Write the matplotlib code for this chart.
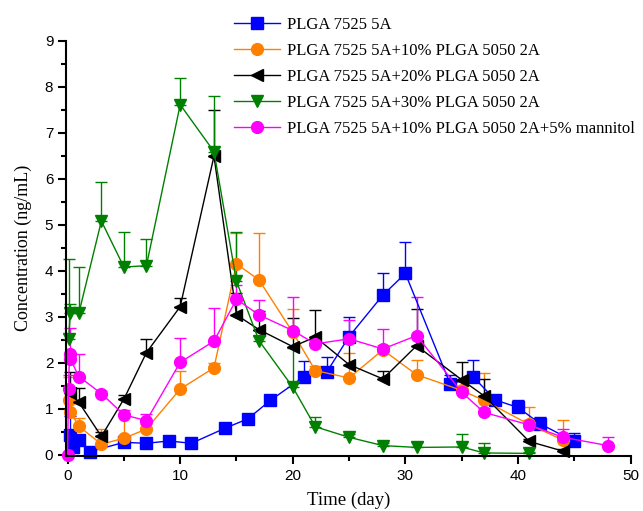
import matplotlib
matplotlib.use('Agg')
import matplotlib.pyplot as plt
from matplotlib.ticker import MultipleLocator

# ── Data ───────────────────────────────────────────
labels = [
    'PLGA 7525 5A',
    'PLGA 7525 5A+10% PLGA 5050 2A',
    'PLGA 7525 5A+20% PLGA 5050 2A',
    'PLGA 7525 5A+30% PLGA 5050 2A',
    'PLGA 7525 5A+10% PLGA 5050 2A+5% mannitol',
]

days_blue = [0.25, 0.5, 1, 2, 5, 7, 9, 11, 14, 16, 18, 21, 23, 25, 28, 30, 34, 36, 38, 40, 42, 45]
conc_blue = [0.43, 0.18, 0.33, 0.07, 0.27, 0.25, 0.30, 0.25, 0.58, 0.78, 1.18, 1.70, 1.79, 2.57,
             3.47, 3.94, 1.53, 1.70, 1.19, 1.03, 0.67, 0.29]
err_blue  = [0.42, 0.05, 0.10, 0.05, 0.08, 0.05, 0.05, 0.05, 0.07, 0.10, 0.05, 0.34, 0.33, 0.42,
             0.49, 0.69, 0.20, 0.37, 0.10, 0.16, 0.16, 0.18]

days_orange = [0.08, 0.25, 1, 3, 5, 7, 10, 13, 15, 17, 20, 22, 25, 28, 31, 35, 37, 41, 44]
conc_orange = [1.20, 0.93, 0.62, 0.23, 0.36, 0.56, 1.43, 1.89, 4.15, 3.80, 2.66, 1.83, 1.67,
               2.28, 1.74, 1.40, 1.18, 0.66, 0.32]
err_orange  = [0.50, 0.20, 0.18, 0.33, 0.55, 0.10, 0.40, 0.10, 0.68, 1.03, 0.51, 0.10, 0.55,
               0.10, 0.31, 0.20, 0.60, 0.38, 0.43]

days_black = [0.25, 1, 3, 5, 7, 10, 13, 15, 17, 20, 22, 25, 28, 31, 35, 37, 41, 44]
conc_black = [1.35, 1.14, 0.40, 1.21, 2.22, 3.22, 6.49, 3.04, 2.72, 2.35, 2.56, 1.96, 1.65,
              2.37, 1.63, 1.28, 0.29, 0.08]
err_black  = [0.45, 0.31, 0.10, 0.10, 0.30, 0.19, 1.00, 0.48, 0.41, 0.62, 0.59, 0.58, 0.18,
              0.80, 0.38, 0.37, 0.05, 0.05]

days_green = [0.08, 0.25, 1, 3, 5, 7, 10, 13, 15, 17, 20, 22, 25, 28, 31, 35, 37, 41]
conc_green = [2.52, 3.09, 3.08, 5.08, 4.08, 4.11, 7.61, 6.59, 3.77, 2.48, 1.47, 0.61, 0.38,
              0.20, 0.16, 0.17, 0.04, 0.03]
err_green  = [1.73, 0.18, 1.00, 0.85, 0.77, 0.59, 0.57, 1.21, 1.07, 0.10, 0.85, 0.21, 0.08,
              0.05, 0.11, 0.29, 0.21, 0.02]

days_magenta = [0, 0.08, 0.17, 0.25, 1, 3, 5, 7, 10, 13, 15, 17, 20, 22, 25, 28, 31, 35, 37, 41, 44, 48]
conc_magenta = [0.00, 1.43, 2.20, 2.08, 1.70, 1.33, 0.87, 0.74, 2.01, 2.47, 3.38, 3.04, 2.70,
                2.41, 2.52, 2.30, 2.59, 1.36, 0.92, 0.65, 0.38, 0.20]
err_magenta  = [0.00, 0.30, 0.55, 0.10, 0.49, 0.05, 0.10, 0.15, 0.53, 0.72, 0.30, 0.33, 0.74,
                0.10, 0.41, 0.43, 0.85, 0.27, 0.10, 0.10, 0.18, 0.19]

series = [
    (days_blue,    conc_blue,    err_blue,    '#0000FF', 's'),
    (days_orange,  conc_orange,  err_orange,  '#FF8000', 'o'),
    (days_black,   conc_black,   err_black,   '#000000', '<'),
    (days_green,   conc_green,   err_green,   '#008000', 'v'),
    (days_magenta, conc_magenta, err_magenta, '#FF00FF', 'o'),
]

# ── Plot ───────────────────────────────────────────
fig = plt.figure(figsize=(6.43, 5.11), dpi=100)
ax = fig.add_axes([0.1034, 0.1082, 0.8772, 0.8122])

handles = []
for (x, y, e, col, mk), lab in zip(series, labels):
    cont = ax.errorbar(x, y, yerr=[[0] * len(e), e], color=col, marker=mk, markersize=8.5,
                       linewidth=1, elinewidth=1, capsize=4, capthick=1, label=lab,
                       clip_on=False)
    handles.append(cont[0])   # line + marker only, no error bar in the legend

ax.set_xlim(-0.1, 50)
ax.set_ylim(-0.02, 9)
ax.xaxis.set_major_locator(MultipleLocator(10))
ax.xaxis.set_minor_locator(MultipleLocator(5))
ax.yaxis.set_major_locator(MultipleLocator(1))
ax.yaxis.set_minor_locator(MultipleLocator(0.5))

for side in ['top', 'right']:
    ax.spines[side].set_visible(False)
for side in ['left', 'bottom']:
    ax.spines[side].set_linewidth(1.5)

ax.tick_params(which='major', direction='out', length=6, width=1.5,
               labelsize=11, labelfontfamily='Liberation Sans')
ax.tick_params(which='minor', direction='out', length=3.5, width=1.5)

ax.set_xlabel('Time (day)', fontsize=13.5, family='Liberation Serif', labelpad=6)
ax.set_ylabel('Concentration (ng/mL)', fontsize=13, family='Liberation Serif', labelpad=9)

ax.legend(handles, labels, loc='upper left', bbox_to_anchor=(226 / 643, 1 - 9 / 511),
          bbox_transform=fig.transFigure, frameon=False, borderpad=0,
          handlelength=2.75, handletextpad=0.4, labelspacing=0.6,
          prop={'family': 'Liberation Serif', 'size': 12})

fig.savefig('out.png', dpi=100)
